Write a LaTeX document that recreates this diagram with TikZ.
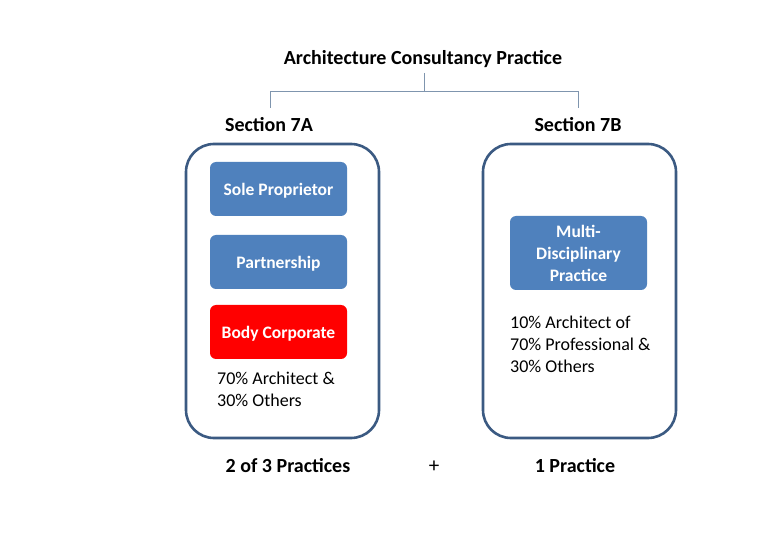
\documentclass[tikz,border=0pt]{standalone}
\usepackage{fontspec}
\setmainfont{Carlito}
\definecolor{boxblue}{HTML}{4F81BD}
\definecolor{frameblue}{HTML}{3B5A82}
\definecolor{linegrey}{HTML}{7F95AE}
\begin{document}
\begin{tikzpicture}[x=1pt,y=-1pt,
  heading/.style={font=\fontsize{20}{22}\selectfont\bfseries, inner sep=0pt},
  frame/.style={draw=frameblue, line width=2.6pt, rounded corners=28pt, fill=white},
  bluebox/.style={fill=boxblue, rounded corners=6pt, text=white, font=\fontsize{17.5}{22}\selectfont\bfseries, align=center, inner sep=0pt, minimum width=137pt},
  redbox/.style={bluebox, fill=red},
  note/.style={font=\fontsize{18}{22}\selectfont, align=left, anchor=north west, inner sep=0pt},
  conn/.style={draw=linegrey, line width=0.8pt}]
\useasboundingbox (0,0) rectangle (780,540);
\node[heading] (top) at (423,59) {Architecture Consultancy Practice};
\node[heading] (s7a) at (269,125) {Section 7A};
\node[heading] (s7b) at (578,125) {Section 7B};
\coordinate (tb) at (424,73);
\coordinate (a1) at (270,108);
\coordinate (b1) at (578,108);
\draw[conn] (tb) -- (424,91) -| (a1);
\draw[conn] (424,91) -| (b1);
\draw[frame] (186,144) rectangle (379,438);
\draw[frame] (483,144) rectangle (676,438);
\node[bluebox, minimum height=54pt, text height=14pt, text depth=0pt] (sole) at (278.5,189) {Sole Proprietor};
\node[bluebox, minimum height=54pt, text height=14pt, text depth=0pt] (part) at (278.5,262) {Partnership};
\node[redbox, minimum height=54pt, text height=14pt, text depth=0pt] (body) at (278.5,332) {Body Corporate};
\node[note] (n1) at (217,372) {70\% Architect \&\\30\% Others};
\node[bluebox, minimum height=74pt, text depth=0pt] (mdp) at (578.5,253) {Multi-\\Disciplinary\\Practice};
\node[note] (n2) at (510,316) {10\% Architect of\\70\% Professional \&\\30\% Others};
\node[heading] (p1) at (288,466) {2 of 3 Practices};
\node[font=\fontsize{21}{22}\selectfont, inner sep=0pt] (plus) at (434,467) {+};
\node[heading] (p2) at (575,466) {1 Practice};
\end{tikzpicture}
\end{document}
